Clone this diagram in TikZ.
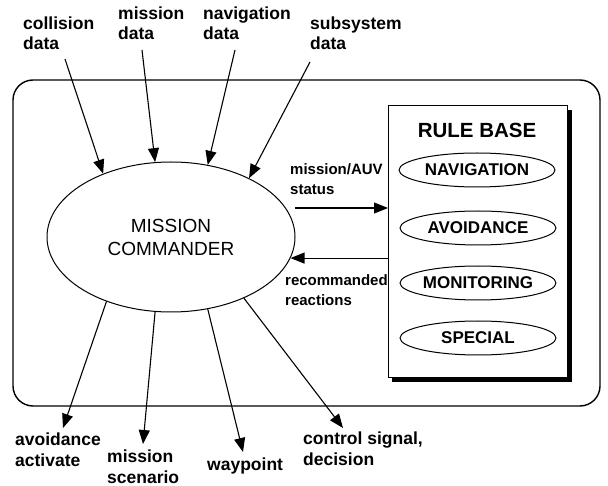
\documentclass[tikz,border=0pt]{standalone}
\usepackage{fontspec}
\setmainfont{Liberation Sans}
\usetikzlibrary{arrows.meta,shapes.geometric}
\begin{document}
\begin{tikzpicture}[x=1pt,y=-1pt,
  lbl/.style={font=\bfseries\fontsize{17.5}{20.5}\selectfont, align=left, anchor=base west, inner sep=0pt},
  flowlbl/.style={font=\bfseries\fontsize{15}{20}\selectfont, align=left, anchor=base west, inner sep=0pt},
  arr/.style={line width=1.1pt, -{Triangle[length=14pt,width=11pt]}},
  rule/.style={ellipse, draw, line width=1pt, minimum width=156pt, minimum height=34pt,
    inner sep=0pt, font=\bfseries\fontsize{17}{20}\selectfont}
]
\useasboundingbox (0,0) rectangle (608,486);

% system frame
\draw[line width=1.4pt, rounded corners=20pt] (13,80) rectangle (600,406);

% rule base with drop shadow
\fill (392,110) rectangle (572,382);
\node[draw, fill=white, line width=1pt, minimum width=179pt, minimum height=272pt,
  inner sep=0pt, anchor=north west] (rb) at (388,105) {};
\node[font=\bfseries\fontsize{20.5}{24}\selectfont, anchor=base] (rbt) at (477,138) {RULE BASE};
\node[rule] (nav) at (477,170) {NAVIGATION};
\node[rule] (avo) at (478,228) {AVOIDANCE};
\node[rule] (mon) at (478,283) {MONITORING};
\node[rule] (spe) at (478,338) {SPECIAL};

% mission commander
\node[ellipse, draw, line width=1pt, minimum width=248pt, minimum height=150pt, inner sep=0pt,
  font=\fontsize{19}{23}\selectfont, align=center] (mc) at (171,237) {MISSION\\COMMANDER};

% input labels and arrows (anchored on the baseline of the last line)
\node[lbl] (in1) at (23,50) {collision\\data};
\node[lbl] (in2) at (118,40) {mission\\data};
\node[lbl] (in3) at (203,40) {navigation\\data};
\node[lbl] (in4) at (310,50) {subsystem\\data};
\coordinate (s1) at (65,59);
\coordinate (s2) at (142,50);
\coordinate (s3) at (235,50);
\coordinate (s4) at (310,62);
\draw[arr] (s1) -- (mc.137.6);
\draw[arr] (s2) -- (mc.102.2);
\draw[arr] (s3) -- (mc.63.4);
\draw[arr] (s4) -- (mc.37.4);

% exchange with the rule base
\node[flowlbl] (stl) at (290,195) {mission/AUV\\status};
\node[flowlbl] (rcl) at (285,306) {recommanded\\reactions};
\coordinate (st) at (295,208);
\draw[arr] (st) -- (st -| rb.west);
\draw[arr] (rb.west |- mc.-10) -- (mc.-10);

% output labels and arrows
\node[lbl] (out1) at (15,466) {avoidance\\activate};
\node[lbl] (out2) at (107,483) {mission\\scenario};
\node[lbl] (out3) at (207,470) {waypoint};
\node[lbl] (out4) at (303,465) {control signal,\\decision};
\coordinate (t1) at (63,428);
\coordinate (t2) at (143,444);
\coordinate (t3) at (243,452);
\coordinate (t4) at (343,428);
\draw[arr] (mc.225.9) -- (t1);
\draw[arr] (mc.258.1) -- (t2);
\draw[arr] (mc.297.2) -- (t3);
\draw[arr] (mc.320.7) -- (t4);
\end{tikzpicture}
\end{document}
